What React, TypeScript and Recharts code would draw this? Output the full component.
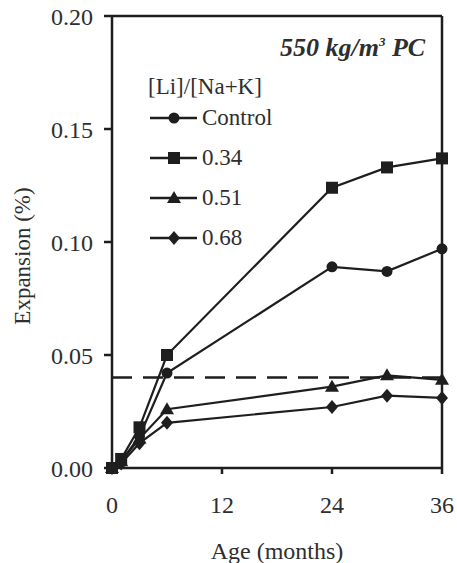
import React from 'react';
import { LineChart, Line, XAxis, YAxis, ReferenceLine } from 'recharts';

const months = [0, 1, 3, 6, 24, 30, 36];
const control = [0, 0.003, 0.014, 0.042, 0.089, 0.087, 0.097];
const ratio034 = [0, 0.004, 0.018, 0.05, 0.124, 0.133, 0.137];
const ratio051 = [0, 0.003, 0.013, 0.026, 0.036, 0.041, 0.039];
const ratio068 = [0, 0.002, 0.011, 0.02, 0.027, 0.032, 0.031];
const xTicks = [0, 12, 24, 36];
const yTicks = [0, 0.05, 0.1, 0.15, 0.2];
const limitLine = 0.04;

const data = months.map((m, i) => ({
  month: m,
  control: control[i],
  r034: ratio034[i],
  r051: ratio051[i],
  r068: ratio068[i],
}));

const INK = '#1e1e1e';
const TEXT = '#2e2e2e';
const FONT = '"Liberation Serif", "DejaVu Serif", serif';

type Shape = 'circle' | 'square' | 'triangle' | 'diamond';

function Marker({ cx, cy, shape }: { cx: number; cy: number; shape: Shape }) {
  if (cx == null || cy == null) return null;
  if (shape === 'circle') return <circle cx={cx} cy={cy} r={5.5} fill={INK} />;
  if (shape === 'square') return <rect x={cx - 6} y={cy - 6} width={12} height={12} fill={INK} />;
  if (shape === 'triangle')
    return <polygon points={`${cx},${cy - 7} ${cx + 7},${cy + 5} ${cx - 7},${cy + 5}`} fill={INK} />;
  return <polygon points={`${cx},${cy - 7} ${cx + 6},${cy} ${cx},${cy + 7} ${cx - 6},${cy}`} fill={INK} />;
}

const series: { key: string; name: string; shape: Shape }[] = [
  { key: 'control', name: 'Control', shape: 'circle' },
  { key: 'r034', name: '0.34', shape: 'square' },
  { key: 'r051', name: '0.51', shape: 'triangle' },
  { key: 'r068', name: '0.68', shape: 'diamond' },
];

function LegendBox() {
  return (
    <div style={{ position: 'absolute', left: 148, top: 72, fontFamily: FONT, fontSize: 23, color: TEXT }}>
      <div style={{ height: 26, lineHeight: '30px' }}>[Li]/[Na+K]</div>
      {series.map((s) => (
        <div key={s.key} style={{ display: 'flex', alignItems: 'center', height: 40 }}>
          <svg width={54} height={20}>
            <line x1={2} y1={10} x2={49} y2={10} stroke={INK} strokeWidth={2.5} />
            <Marker cx={26} cy={10} shape={s.shape} />
          </svg>
          <span>{s.name}</span>
        </div>
      ))}
    </div>
  );
}

function YLabel(props: any) {
  const vb = props.viewBox || {};
  const cx = 22;
  const cy = (vb.y ?? 16) + (vb.height ?? 452) / 2 + 14;
  return (
    <text
      x={cx}
      y={cy}
      transform={`rotate(-90, ${cx}, ${cy})`}
      textAnchor="middle"
      dominantBaseline="central"
      fill={TEXT}
      fontSize={23}
      fontFamily={FONT}
    >
      Expansion (%)
    </text>
  );
}

export default function App() {
  return (
    <div style={{ position: 'absolute', left: 0, top: 0, width: 457, height: 563, background: '#fff' }}>
      <LineChart width={457} height={563} data={data} margin={{ top: 16, right: 15, left: 0, bottom: 0 }}>
        <XAxis
          dataKey="month"
          type="number"
          domain={[0, 36]}
          ticks={xTicks}
          height={95}
          stroke={INK}
          strokeWidth={2.5}
          tick={{ fill: TEXT, fontSize: 24, fontFamily: FONT }}
          tickMargin={22}
          label={{ value: 'Age (months)', position: 'insideBottom', offset: 4, fill: TEXT, fontSize: 24, fontFamily: FONT }}
        />
        <YAxis
          domain={[0, 0.2]}
          ticks={yTicks}
          width={112}
          stroke={INK}
          strokeWidth={2.5}
          tickSize={8}
          tickMargin={11}
          tickFormatter={(v: number) => v.toFixed(2)}
          tick={{ fill: TEXT, fontSize: 24, fontFamily: FONT }}
          label={{ content: (p: any) => <YLabel {...p} /> }}
        />
        <ReferenceLine y={0.2} stroke={INK} strokeWidth={2.5} />
        <ReferenceLine x={36} stroke={INK} strokeWidth={2.5} />
        <ReferenceLine y={limitLine} stroke={INK} strokeWidth={2.5} strokeDasharray="20 11" />
        {series.map((s) => (
          <Line
            key={s.key}
            dataKey={s.key}
            name={s.name}
            type="linear"
            stroke={INK}
            strokeWidth={2.2}
            isAnimationActive={false}
            dot={(p: any) => <Marker key={`${s.key}-${p.index}`} cx={p.cx} cy={p.cy} shape={s.shape} />}
          />
        ))}
      </LineChart>
      <LegendBox />
      <div
        style={{
          position: 'absolute',
          left: 280,
          top: 33,
          lineHeight: '30px',
          fontFamily: FONT,
          fontSize: 26,
          fontWeight: 'bold',
          fontStyle: 'italic',
          color: TEXT,
        }}
      >
        550 kg/m<sup style={{ fontSize: 13, lineHeight: 0 }}>3</sup> PC
      </div>
    </div>
  );
}
